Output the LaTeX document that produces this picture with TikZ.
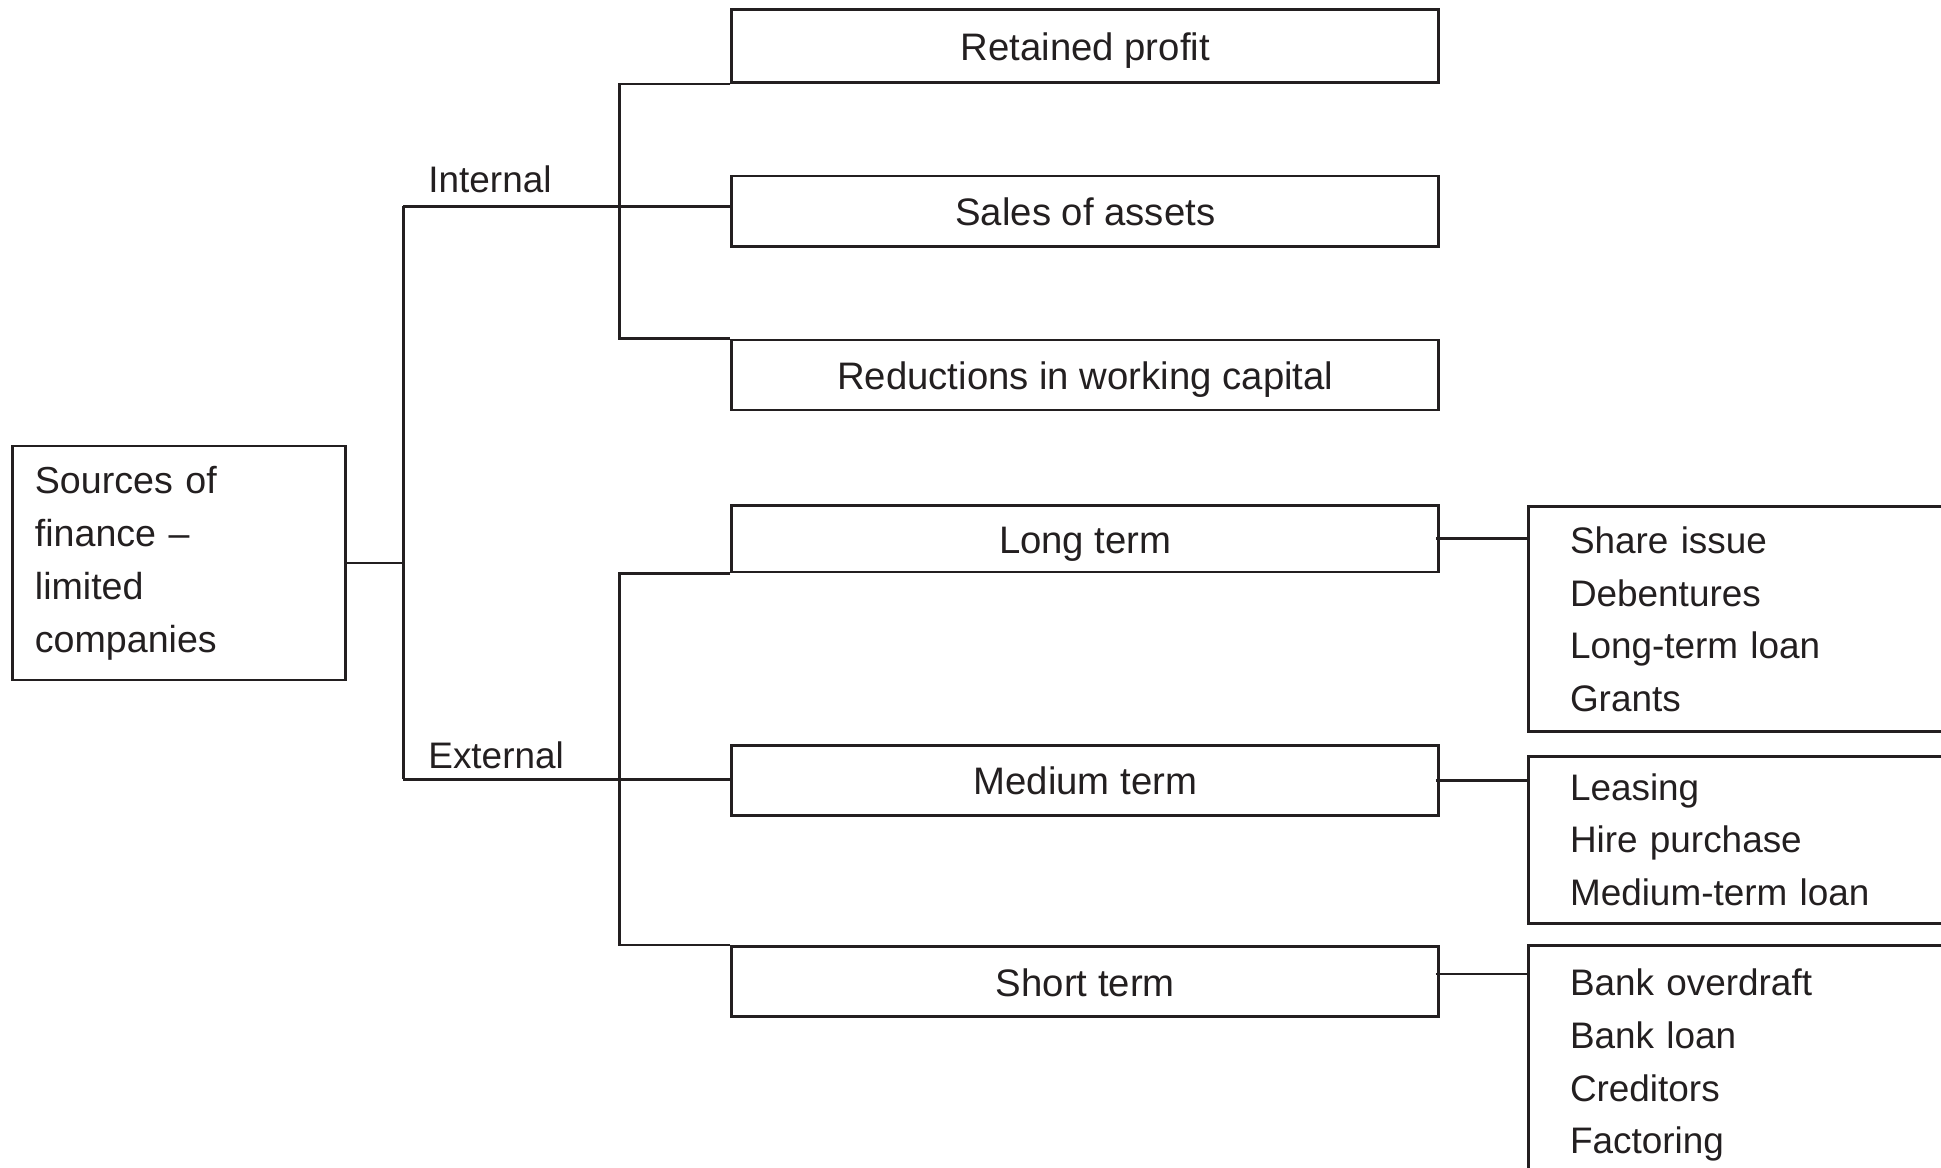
\documentclass[tikz,border=0pt]{standalone}
\usepackage{fontspec}
\setmainfont{Liberation Sans}
\usepackage{tikz}
\definecolor{ink}{HTML}{231F20}

\begin{document}
\begin{tikzpicture}[x=0.1mm,y=-0.1mm,line width=0.8pt,color=ink,
  font=\fontsize{10.5}{15}\selectfont,
  box/.style={draw,inner sep=0pt,minimum width=70.7mm,font=\fontsize{10.9}{15}\selectfont,text height=3.7mm,text depth=0.8mm},
  list/.style={draw,anchor=north west,align=left,text width=41.74mm,inner xsep=4.13mm,inner ysep=0pt,minimum width=50mm},
  tag/.style={anchor=base west,inner sep=0pt}]
\useasboundingbox (0,0) rectangle (1941,1167);
\clip (0,0) rectangle (1941,1167);

\node[draw,align=left,font=\fontsize{10.7}{15.1}\selectfont,text width=28.8mm,inner xsep=2.25mm,minimum width=33.3mm,minimum height=23.4mm] (src) at (178.9,563)
  {Sources of\\finance –\\limited\\companies};

\node[tag] (int) at (427,192.3) {Internal};
\node[tag] (ext) at (427,768.3) {External};

\node[box,minimum height=7.3mm] (ret) at (1085.3,46) {Retained profit};
\node[box,minimum height=7.07mm] (sal) at (1085.3,211.3) {Sales of assets};
\node[box,minimum height=7mm] (red) at (1085.3,375) {Reductions in working capital};
\node[box,minimum height=6.67mm] (lng) at (1085.3,538.7) {Long term};
\node[box,minimum height=7mm] (med) at (1085.3,780.3) {Medium term};
\node[box,minimum height=7.04mm] (sht) at (1085.3,981.5) {Short term};

\node[list,minimum height=22.5mm] (lngl) at (1527.3,505.3) {Share issue\\Debentures\\Long-term loan\\Grants};
\node[list,minimum height=16.7mm] (medl) at (1527.3,754.7) {Leasing\\Hire purchase\\Medium-term loan};
\node[list,minimum height=24mm] (shtl) at (1527.3,943.7) {Bank overdraft\\Bank loan\\Creditors\\Factoring};

% tree lines
\coordinate (itop) at (403.3,206.3);
\coordinate (ebot) at (403.3,779.3);
\coordinate (ibar) at (619.6,0);
\draw (src.east) -- (src.east -| itop);
\draw (itop) -- (ebot);
\draw (itop) -- (itop -| sal.west);
\draw (ebot) -- (ebot -| med.west);
\draw (ret.south west) -- (ret.south west -| ibar) -- (red.north west -| ibar) -- (red.north west);
\draw (lng.south west) -- (lng.south west -| ibar) -- (sht.north west -| ibar) -- (sht.north west);
\draw ([xshift=-0.44mm]lng.east) -- (lng.east -| lngl.west);
\draw ([xshift=-0.44mm]med.east) -- (med.east -| medl.west);
\draw ([xshift=-0.44mm,yshift=0.75mm]sht.east) -- ([yshift=0.75mm]sht.east -| shtl.west);
\end{tikzpicture}
\end{document}
